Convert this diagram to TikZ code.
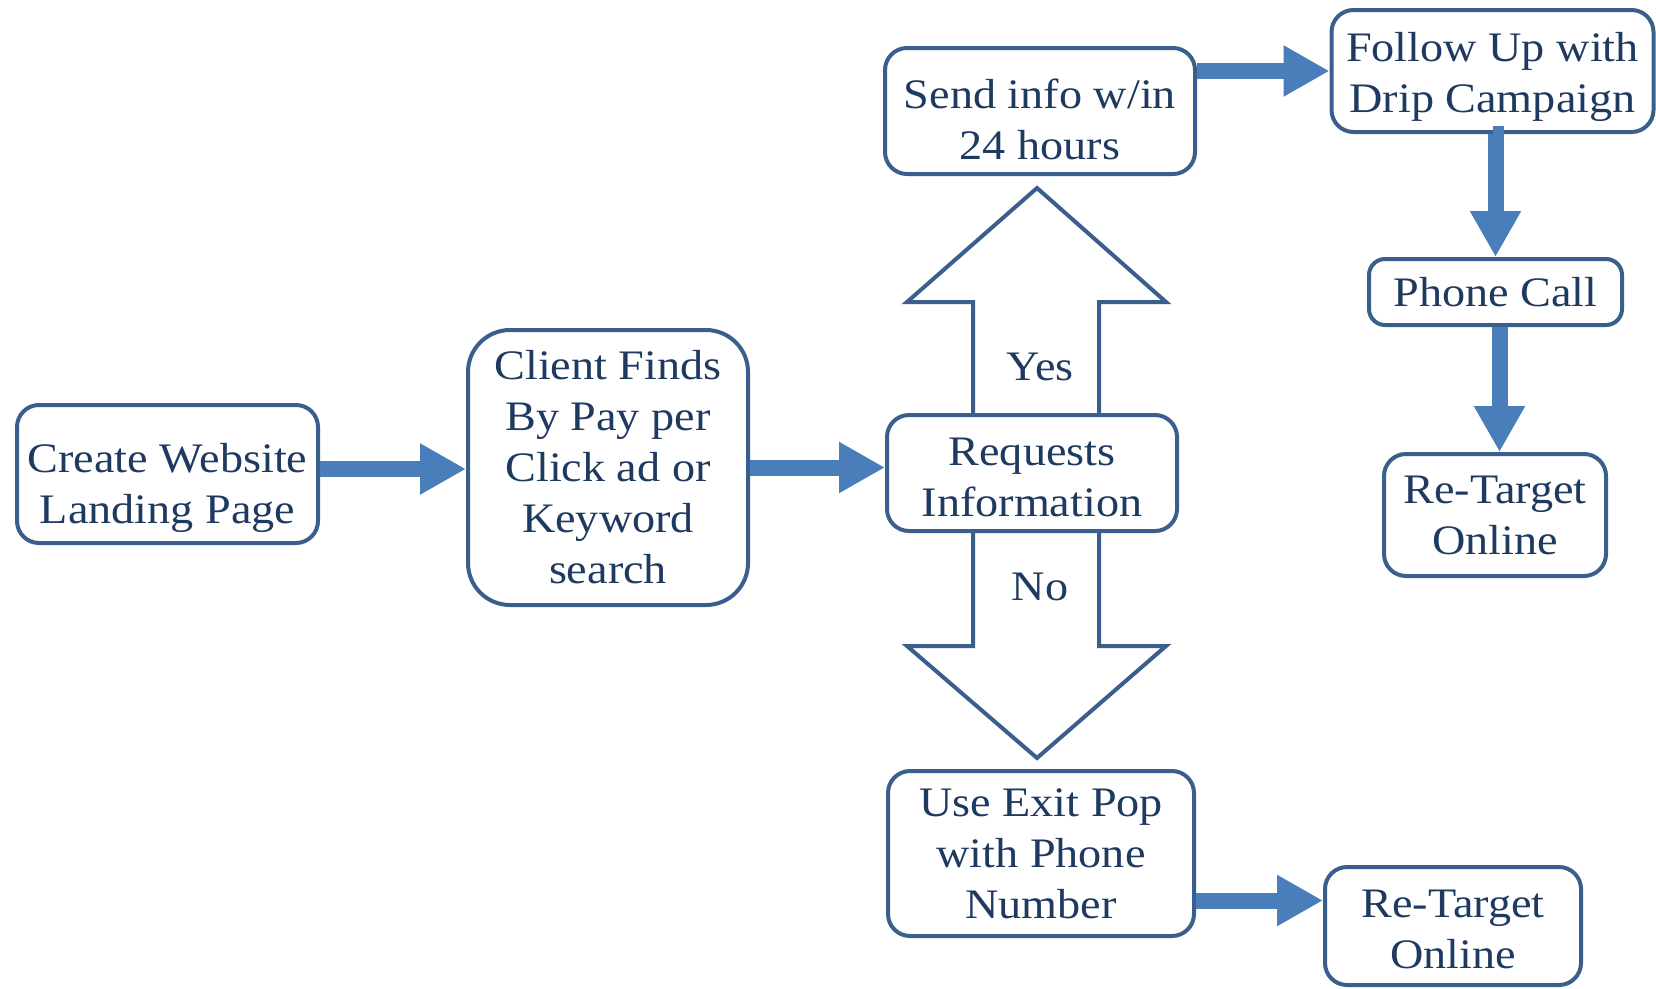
\documentclass[tikz,border=0pt]{standalone}
\usepackage{fontspec}
\setmainfont[FakeStretch=1.1]{Liberation Serif}
\usetikzlibrary{arrows.meta,calc}
\definecolor{boxline}{HTML}{3A5F8C}
\definecolor{txt}{HTML}{1F3A60}
\definecolor{arr}{HTML}{4A7EBB}
\newcommand\lowr[2]{\raisebox{-#1}[\height][\depth]{#2}}
\begin{document}
\begin{tikzpicture}[x=1pt,y=-1pt,
  box/.style={draw=boxline, line width=4pt, fill=white, rounded corners=22pt,
    align=center, text=txt, font=\fontsize{42}{51}\selectfont, inner sep=0pt},
  flow/.style={draw=arr, line width=16pt, -{Triangle[length=46pt,width=48pt]}},
  bigarrow/.style={draw=boxline, line width=4pt, fill=white, line join=miter},
  lbl/.style={text=txt, font=\fontsize{42}{51}\selectfont, inner sep=0pt}]
\useasboundingbox (0,0) rectangle (1656,988);
% big yes / no arrows
\draw[bigarrow] (973,416) -- (973,302) -- (907,302) -- (1037,188) -- (1166,302) -- (1099,302) -- (1099,416);
\draw[bigarrow] (973,530) -- (973,646) -- (907,646) -- (1037,758) -- (1166,646) -- (1099,646) -- (1099,530);
\node[lbl] (yes) at (1040,367) {Yes};
\node[lbl] (no) at (1040,587) {No};
% boxes
\node[box, minimum width=301pt, minimum height=138pt] (create) at (167.5,474) {\lowr{14pt}{Create Website}\\\lowr{14pt}{Landing Page}};
\node[box, rounded corners=42pt, minimum width=280pt, minimum height=275pt] (client) at (608,467.5) {Client Finds\\By Pay per\\Click ad or\\Keyword\\search};
\node[box, minimum width=290pt, minimum height=116pt] (req) at (1032,473) {\lowr{4pt}{Requests}\\\lowr{4pt}{Information}};
\node[box, minimum width=310pt, minimum height=126pt] (send) at (1040,111) {\lowr{8pt}{Send info w/in}\\\lowr{8pt}{24 hours}};
\node[box, minimum width=322pt, minimum height=122pt] (follow) at (1492.5,71) {\lowr{6pt}{Follow Up with}\\\lowr{6pt}{Drip Campaign}};
\node[box, rounded corners=16pt, minimum width=253pt, minimum height=66pt] (phone) at (1495.5,292) {Phone Call};
\node[box, minimum width=222pt, minimum height=122pt] (rtone) at (1495,515) {Re-Target\\Online};
\node[box, minimum width=306pt, minimum height=165pt] (exit) at (1041,853.5) {Use Exit Pop\\with Phone\\Number};
\node[box, minimum width=256pt, minimum height=118pt] (rttwo) at (1453,926) {\lowr{3pt}{Re-Target}\\\lowr{3pt}{Online}};
% connectors
\draw[flow] ([yshift=5pt]create.east) -- ([yshift=5pt]create.east -| client.west);
\draw[flow] (client.east) -- (client.east -| req.west);
\draw[flow] (send.east |- follow.west) -- (follow.west);
\draw[flow] (follow.south) -- (follow.south -| phone.north) -- (phone.north);
\draw[flow] ([xshift=4pt]phone.south) -- ([xshift=4pt]phone.south |- rtone.north);
\coordinate (ea) at ([yshift=-47pt]exit.east);
\draw[flow] (ea) -- (ea -| rttwo.west);
\end{tikzpicture}
\end{document}
